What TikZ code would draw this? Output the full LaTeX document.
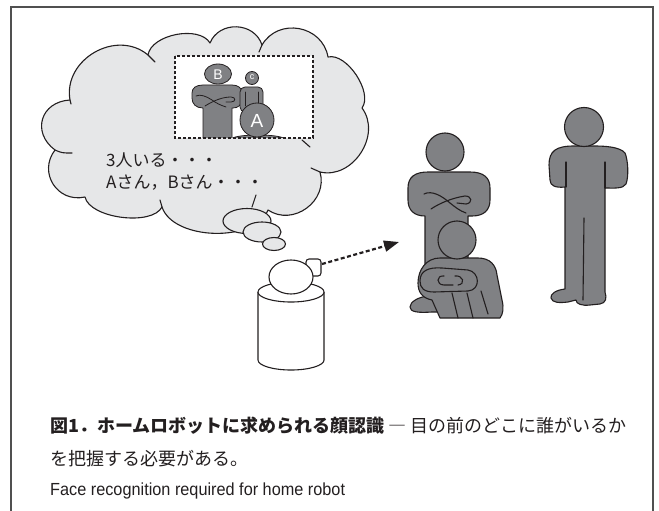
\documentclass[tikz,border=0pt]{standalone}
\usepackage{fontspec}
\setmainfont{Liberation Sans}
\newfontfamily\jpfont{Noto Sans CJK JP}
\newfontfamily\capsans{Liberation Sans}[FakeStretch=0.93]
\usetikzlibrary{arrows.meta}

\definecolor{ink}{RGB}{35,31,32}
\definecolor{cloudfill}{RGB}{230,231,232}
\definecolor{bodyfill}{RGB}{128,129,132}
\definecolor{framegray}{RGB}{80,80,80}

\tikzset{
  frameline/.style={draw=framegray, line width=1.3pt},
  cloudshape/.style={draw=ink, fill=cloudfill, line width=1.1pt, line join=round},
  crease/.style={draw=ink, line width=1.1pt, line cap=round},
  person/.style={draw=ink, fill=bodyfill, line width=1.1pt, line join=round},
  minibody/.style={draw=ink, fill=bodyfill, line width=0.8pt, line join=round},
  detail/.style={draw=ink, line width=1.1pt, line cap=round},
  minidetail/.style={draw=ink, line width=0.8pt, line cap=round},
  robotpart/.style={draw=ink, fill=white, line width=1.1pt},
  viewbox/.style={draw=ink, line width=1.1pt, dash pattern=on 3pt off 2pt},
  lookline/.style={draw=ink, line width=2.2pt, dash pattern=on 4pt off 2.5pt,
    -{Triangle[length=15pt,width=11pt]}},
  thought/.style={anchor=west, inner sep=0pt, text=ink,
    font=\jpfont\fontsize{17}{17}\selectfont},
  caption/.style={anchor=west, inner sep=0pt, text=ink,
    font=\jpfont\fontsize{18}{18}\selectfont},
  tag/.style={inner sep=0pt, text=white}
}

\begin{document}
\begin{tikzpicture}[x=1pt,y=-1pt]
\useasboundingbox (0,0) rectangle (659,511);

% open frame
\draw[frameline] (11,511) -- (11,7) -- (653,7) -- (653,511);

% thought cloud
\draw[cloudshape] (55,150)
  to[bend left=70, looseness=1.45] (70,100)
  to[bend left=70, looseness=1.17] (148,55)
  to[bend left=70, looseness=0.85] (210,43)
  to[bend left=70, looseness=1.2]  (262,45)
  to[bend left=70, looseness=1.23] (328,57)
  to[bend left=70, looseness=0.8]  (362,108)
  to[bend left=70, looseness=1.12] (320,172)
  to[bend left=70, looseness=1.2]  (268,210)
  to[bend left=70, looseness=0.85] (162,207)
  to[bend left=70, looseness=0.72] (85,197)
  to[bend left=70, looseness=1.3]  (55,150) -- cycle;
% creases of the cloud
\draw[crease] (55,150) .. controls (62,153) .. (72,153);
\draw[crease] (70,100) -- (71,104);
\draw[crease] (148,55) -- (155,62);
\draw[crease] (262,45) -- (259,52);
\draw[crease] (320,172) -- (311,168);
\draw[crease] (162,207) -- (160,200);
\draw[crease] (256,195) -- (252,207);
\draw[crease] (302,140) -- (310,147);

% small bubbles
\draw[cloudshape] (247,221) ellipse[x radius=24, y radius=12.5];
\draw[cloudshape] (262,232) ellipse[x radius=19, y radius=10];
\draw[cloudshape] (274,244) ellipse[x radius=11.5, y radius=6.5];

% imagined view
\fill[white] (175,56) rectangle (313,138);
\begin{scope}
  \clip (175.6,56.6) rectangle (312.4,137.4);
  % person B
  \draw[minibody] (203,142) -- (203,108) .. controls (196,108) and (192,104) .. (192,98)
    -- (192,93) .. controls (192,88) and (196,85) .. (203,85) -- (232,85)
    .. controls (238,85) and (242,88) .. (242,93) -- (242,99)
    .. controls (242,105) and (238,108) .. (233,108) -- (232,108) -- (232,142) -- cycle;
  \draw[minidetail] (196,96) .. controls (200,94) and (206,96) .. (212,100)
    .. controls (216,103) and (220,105) .. (226,107);
  \draw[minidetail] (205,106) .. controls (213,101) and (222,97) .. (231,97)
    .. controls (236,97) and (236,102) .. (231,102) -- (226,102);
  \draw[minibody] (218,74) ellipse[x radius=13.5, y radius=10];
  \node[tag, font=\fontsize{14}{14}\selectfont] (labB) at (218,74.5) {B};
  % person C
  \draw[minibody, rounded corners=5pt] (240,87) rectangle (263,112);
  \draw[minidetail] (245,92) -- (245,106);
  \draw[minidetail] (258,92) -- (258,106);
  \draw[minibody] (252,78) circle[radius=6.5];
  \node[tag, font=\fontsize{9}{9}\selectfont] (labC) at (252,77.5) {c};
  % person A
  \draw[minibody] (258,139) ellipse[x radius=26, y radius=4];
  \draw[minibody] (257,120) circle[radius=17];
  \node[tag, font=\fontsize{19}{19}\selectfont] (labA) at (257,121) {A};
\end{scope}
\draw[viewbox] (175,56) rectangle (313,138);

% thoughts
\node[thought] (t1) at (106,160) {3人いる・・・};
\node[thought] (t2) at (106,183) {Aさん，Bさん・・・};

% robot body
\draw[robotpart] (258,292) -- (258,360) arc[start angle=180, end angle=0, x radius=33, y radius=10] -- (324,292);
\draw[robotpart] (291,292) ellipse[x radius=33, y radius=10];
% robot head with camera
\draw[robotpart, rounded corners=3pt] (306,259) rectangle (321,276);
\draw[robotpart] (291,277) ellipse[x radius=22, y radius=17];

% line of sight
\coordinate (cam) at (322,264);
\coordinate (group) at (399,242);
\draw[lookline] (cam) -- (group);

% standing person with crossed arms
\draw[person] (425,300) -- (425,216) .. controls (414,216) and (408,210) .. (408,200)
  -- (408,188) .. controls (408,177) and (415,172) .. (428,172) -- (470,172)
  .. controls (484,172) and (490,178) .. (490,188) -- (490,200)
  .. controls (490,210) and (484,216) .. (472,216) -- (468,216) -- (468,300) -- cycle;
\draw[person] (428,296) .. controls (418,297) and (410,302) .. (410,307)
  .. controls (410,312) and (418,313) .. (432,312) -- (440,312) -- (440,296) -- cycle;
\draw[detail] (424,194) .. controls (432,190) and (442,196) .. (450,203)
  .. controls (455,207) and (460,211) .. (466,213);
\draw[detail] (431,209) .. controls (440,203) and (452,198) .. (465,196)
  .. controls (472,196) and (473,203) .. (466,204) -- (457,203);
\draw[person] (445,152) circle[radius=19];

% sitting person
\draw[person] (440,258) -- (478,258) .. controls (490,258) and (496,265) .. (497,275)
  -- (502,300) .. controls (504,308) and (503,314) .. (500,318) -- (440,318)
  -- (432,300) .. controls (422,298) and (418,292) .. (418,283)
  .. controls (418,270) and (426,258) .. (440,258) -- cycle;
\draw[person] (420,281) .. controls (420,271) and (428,267) .. (442,268) -- (468,270)
  .. controls (480,272) and (481,290) .. (468,291) -- (434,292)
  .. controls (424,292) and (420,288) .. (420,281) -- cycle;
\draw[detail] (444,276) .. controls (436,275) and (436,285) .. (444,285) -- (453,285);
\draw[detail] (455,276) .. controls (463,275) and (466,284) .. (458,285);
\draw[detail] (452,293) -- (458,318);
\draw[detail] (467,293) -- (473,318);
\draw[detail] (481,291) -- (488,314);
\draw[person] (457,240) circle[radius=19];

% standing person, arms down
\draw[person] (574,146) .. controls (556,146) and (549,151) .. (549,165) -- (550,180)
  .. controls (550,186) and (556,188) .. (565,187) -- (565,289)
  .. controls (556,290) and (550,294) .. (551,298)
  .. controls (552,303) and (560,303) .. (568,302) -- (576,300)
  .. controls (576,304) and (582,306) .. (590,305) -- (600,304)
  .. controls (606,303) and (607,298) .. (605,292) -- (605,188)
  .. controls (614,188) and (623,189) .. (626,184)
  .. controls (629,176) and (628,160) .. (625,153)
  .. controls (620,147) and (606,146) .. (594,146) -- cycle;
\draw[detail] (566,162) -- (566,187);
\draw[detail] (605,162) -- (605,188);
\draw[detail] (584,218) -- (583,300);
\draw[person] (584,127) circle[radius=19.5];

% caption
\node[caption] (cap1) at (50,426) {{\bfseries 図1．ホームロボットに求められる顔認識} ― 目の前のどこに誰がいるか};
\node[caption] (cap2) at (50,459) {を把握する必要がある。};
\node[anchor=west, inner sep=0pt, text=ink, font=\capsans\fontsize{17.5}{17.5}\selectfont] (cap3) at (50,491) {Face recognition required for home robot};
\end{tikzpicture}
\end{document}
